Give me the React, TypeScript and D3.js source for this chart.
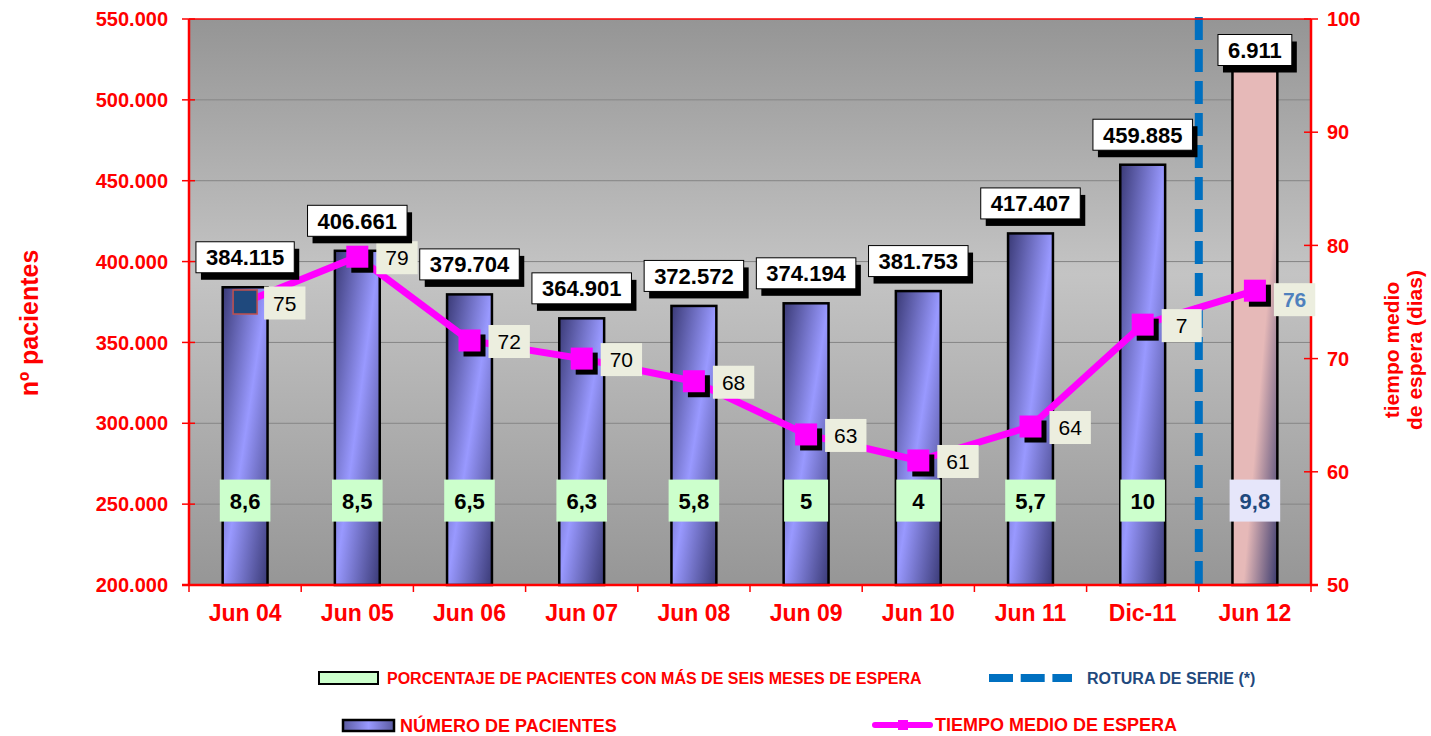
import React from "react";
import * as d3 from "d3";

const categories = ["Jun 04", "Jun 05", "Jun 06", "Jun 07", "Jun 08", "Jun 09", "Jun 10", "Jun 11", "Dic-11", "Jun 12"];
const patients = [384115, 406661, 379704, 364901, 372572, 374194, 381753, 417407, 459885, 530000];
const patientLabels = ["384.115", "406.661", "379.704", "364.901", "372.572", "374.194", "381.753", "417.407", "459.885", "6.911"];
const waitDays = [75, 79, 71.6, 70, 68, 63.3, 61, 64, 73, 76];
const waitLabels = ["75", "79", "72", "70", "68", "63", "61", "64", "7", "76"];
const pctLabels = ["8,6", "8,5", "6,5", "6,3", "5,8", "5", "4", "5,7", "10", "9,8"];
const leftTicks = [200000, 250000, 300000, 350000, 400000, 450000, 500000, 550000];
const rightTicks = [50, 60, 70, 80, 90, 100];

const FONT = "Arial, 'Liberation Sans', sans-serif";
const RED = "#FF0000";

const W = 1431;
const H = 736;
const plot = { left: 189, right: 1311, top: 19, bottom: 585 };
const PCT_LEVEL = 252200;

const locale = d3.formatLocale({ decimal: ",", thousands: ".", grouping: [3], currency: ["", "€"] });
const fmtThousands = locale.format(",.0f");

let _ctx: CanvasRenderingContext2D | null = null;
function textW(t: string, font: string): number {
  if (typeof document !== "undefined") {
    if (!_ctx) _ctx = document.createElement("canvas").getContext("2d");
    if (_ctx) {
      _ctx.font = font;
      return _ctx.measureText(t).width;
    }
  }
  return t.length * 11;
}

export default function App() {
  const x = d3
    .scaleBand<string>()
    .domain(categories)
    .range([plot.left, plot.right])
    .paddingInner(0.6)
    .paddingOuter(0.3);
  const step = x.step();
  const bw = x.bandwidth();
  const cx = (c: string) => (x(c) as number) + bw / 2;
  const yL = d3.scaleLinear().domain([200000, 550000]).range([plot.bottom, plot.top]);
  const yR = d3.scaleLinear().domain([50, 100]).range([plot.bottom, plot.top]);

  const boundaries = d3.range(categories.length + 1).map((i) => plot.left + i * step);
  const breakX = boundaries[categories.length - 1];

  const lineGen = d3
    .line<number>()
    .x((_, i) => cx(categories[i]))
    .y((d) => yR(d));

  const last = categories.length - 1;
  const barLabelFont = `bold 22px ${FONT}`;
  const pctFont = `bold 22px ${FONT}`;
  const lineLblFont = `21px ${FONT}`;

  return (
    <svg
      width={W}
      height={H}
      style={{ position: "absolute", left: 0, top: 0, display: "block", background: "#fff" }}
      fontFamily={FONT}
    >
      <defs>
        <linearGradient id="plotBg" x1="0" y1="0" x2="0" y2="1">
          <stop offset="0" stopColor="#959595" />
          <stop offset="0.45" stopColor="#C4C4C4" />
          <stop offset="1" stopColor="#969696" />
        </linearGradient>
        <linearGradient id="barBlue" x1="0" y1="0" x2="1" y2="1">
          <stop offset="0" stopColor="#3A3A76" />
          <stop offset="0.5" stopColor="#9999FF" />
          <stop offset="1" stopColor="#3A3A76" />
        </linearGradient>
        <linearGradient id="barPink" x1="0" y1="0" x2="1" y2="1">
          <stop offset="0" stopColor="#E6B9B8" />
          <stop offset="0.62" stopColor="#E6B9B8" />
          <stop offset="1" stopColor="#3B3B6E" />
        </linearGradient>
        <linearGradient id="legBlue" x1="0" y1="0" x2="1" y2="0">
          <stop offset="0" stopColor="#5A5AA0" />
          <stop offset="0.5" stopColor="#9999FF" />
          <stop offset="1" stopColor="#5A5AA0" />
        </linearGradient>
      </defs>

      <rect
        x={plot.left}
        y={plot.top}
        width={plot.right - plot.left}
        height={plot.bottom - plot.top}
        fill="url(#plotBg)"
      />
      {leftTicks.slice(1, -1).map((t) => (
        <line key={t} x1={plot.left} x2={plot.right} y1={yL(t)} y2={yL(t)} stroke="#858585" strokeWidth={1} />
      ))}

      {categories.map((c, i) => {
        const top = Math.max(yL(patients[i]), plot.top);
        return (
          <rect
            key={c}
            x={x(c)}
            y={top}
            width={bw}
            height={plot.bottom - top}
            fill={i === last ? "url(#barPink)" : "url(#barBlue)"}
            stroke="#000"
            strokeWidth={2.5}
          />
        );
      })}

      <line
        x1={breakX}
        x2={breakX}
        y1={plot.top - 2}
        y2={plot.bottom}
        stroke="#0070C0"
        strokeWidth={8}
        strokeDasharray="23 9"
      />

      <line x1={plot.left} x2={plot.right} y1={plot.top} y2={plot.top} stroke={RED} strokeWidth={1.5} />
      <line x1={plot.left} x2={plot.left} y1={plot.top} y2={plot.bottom} stroke={RED} strokeWidth={2.5} />
      <line x1={plot.right} x2={plot.right} y1={plot.top} y2={plot.bottom} stroke={RED} strokeWidth={2.5} />
      <line x1={plot.left - 7} x2={plot.right + 7} y1={plot.bottom} y2={plot.bottom} stroke={RED} strokeWidth={2.5} />
      {leftTicks.map((t) => (
        <g key={"l" + t}>
          <line x1={plot.left - 7} x2={plot.left + 6} y1={yL(t)} y2={yL(t)} stroke={RED} strokeWidth={1.5} />
          <text x={168} y={yL(t)} dy="0.36em" textAnchor="end" fontSize={20} fontWeight="bold" fill={RED}>
            {fmtThousands(t)}
          </text>
        </g>
      ))}
      {rightTicks.map((t) => (
        <g key={"r" + t}>
          <line x1={plot.right - 7} x2={plot.right + 7} y1={yR(t)} y2={yR(t)} stroke={RED} strokeWidth={1.5} />
          <text x={1327} y={yR(t)} dy="0.36em" textAnchor="start" fontSize={20} fontWeight="bold" fill={RED}>
            {t}
          </text>
        </g>
      ))}
      {boundaries.map((b, i) => (
        <line key={"xb" + i} x1={b} x2={b} y1={plot.bottom} y2={plot.bottom + 7} stroke={RED} strokeWidth={1.5} />
      ))}
      {categories.map((c) => (
        <text key={"xl" + c} x={cx(c)} y={613} dy="0.36em" textAnchor="middle" fontSize={23} fontWeight="bold" fill={RED}>
          {c}
        </text>
      ))}

      <text transform={`translate(38, 323) rotate(-90)`} textAnchor="middle" fontSize={25} fontWeight="bold" fill={RED}>
        nº pacientes
      </text>
      <text transform={`translate(1399, 350) rotate(-90)`} textAnchor="middle" fontSize={21} fontWeight="bold" fill={RED}>
        tiempo medio
      </text>
      <text transform={`translate(1422, 350) rotate(-90)`} textAnchor="middle" fontSize={21} fontWeight="bold" fill={RED}>
        de espera (dias)
      </text>

      <path d={lineGen(waitDays) || ""} fill="none" stroke="#FF00FF" strokeWidth={7} strokeLinejoin="round" />
      {waitDays.map((v, i) => {
        const mx = cx(categories[i]);
        const my = yR(v);
        if (i === 0) {
          return (
            <rect key={"m" + i} x={mx - 12} y={my - 12} width={24} height={24} fill="#1F497D" stroke="#C0504D" strokeWidth={1.5} />
          );
        }
        return (
          <g key={"m" + i}>
            <rect x={mx - 6} y={my - 6} width={22} height={22} fill="#000" />
            <rect x={mx - 11} y={my - 11} width={22} height={22} fill="#FF00FF" />
          </g>
        );
      })}
      {waitLabels.map((l, i) => {
        const mx = cx(categories[i]);
        const my = yR(waitDays[i]);
        const special = i === last;
        const f = special ? `bold 21px ${FONT}` : lineLblFont;
        const w = Math.max(40, textW(l, f) + 18);
        const h = 33;
        const bx = mx + 19;
        const byc = my + (special ? 9 : 1);
        return (
          <g key={"wl" + i}>
            <rect x={bx} y={byc - h / 2} width={w} height={h} fill="#ECEEDF" />
            <text
              x={bx + w / 2}
              y={byc}
              dy="0.36em"
              textAnchor="middle"
              fontSize={21}
              fontWeight={special ? "bold" : "normal"}
              fill={special ? "#4F81BD" : "#000"}
            >
              {l}
            </text>
          </g>
        );
      })}

      {patientLabels.map((l, i) => {
        const c = categories[i];
        const w = textW(l, barLabelFont) + 20;
        const h = 31;
        const yc = Math.max(yL(patients[i]) - 30, plot.top + 31);
        const bx = cx(c) - w / 2;
        return (
          <g key={"bl" + i}>
            <rect x={bx + 5} y={yc - h / 2 + 7} width={w} height={h} fill="#000" />
            <rect x={bx} y={yc - h / 2} width={w} height={h} fill="#fff" stroke="#000" strokeWidth={1} />
            <text x={cx(c)} y={yc} dy="0.36em" textAnchor="middle" fontSize={22} fontWeight="bold" fill="#000">
              {l}
            </text>
          </g>
        );
      })}

      {pctLabels.map((l, i) => {
        const c = categories[i];
        const special = i === last;
        const w = Math.max(44, textW(l, pctFont) + 20);
        const h = 42;
        const yc = yL(PCT_LEVEL);
        return (
          <g key={"pl" + i}>
            <rect x={cx(c) - w / 2} y={yc - h / 2} width={w} height={h} fill={special ? "#E6E6FA" : "#CCFFCC"} />
            <text
              x={cx(c)}
              y={yc}
              dy="0.36em"
              textAnchor="middle"
              fontSize={22}
              fontWeight="bold"
              fill={special ? "#1F497D" : "#000"}
            >
              {l}
            </text>
          </g>
        );
      })}

      <rect x={319} y={672} width={59} height={12} fill="#CCFFCC" stroke="#000" strokeWidth={2} />
      <text x={387} y={678} dy="0.36em" fontSize={16} fontWeight="bold" fill={RED}>
        PORCENTAJE DE PACIENTES CON MÁS DE SEIS MESES DE ESPERA
      </text>
      <line x1={989} x2={1072} y1={678} y2={678} stroke="#0070C0" strokeWidth={8} strokeDasharray="24 7.7" />
      <text x={1087} y={678} dy="0.36em" fontSize={16} fontWeight="bold" fill="#1F497D">
        ROTURA DE SERIE (*)
      </text>
      <rect x={343} y={720} width={51} height={11} fill="url(#legBlue)" stroke="#000" strokeWidth={2.5} />
      <text x={400} y={726} dy="0.36em" fontSize={18} fontWeight="bold" fill={RED}>
        NÚMERO DE PACIENTES
      </text>
      <line x1={875} x2={930} y1={725} y2={725} stroke="#FF00FF" strokeWidth={6} strokeLinecap="round" />
      <rect x={898} y={720} width={10} height={10} fill="#FF00FF" />
      <text x={935} y={725} dy="0.36em" fontSize={18} fontWeight="bold" fill={RED}>
        TIEMPO MEDIO DE ESPERA
      </text>
    </svg>
  );
}
